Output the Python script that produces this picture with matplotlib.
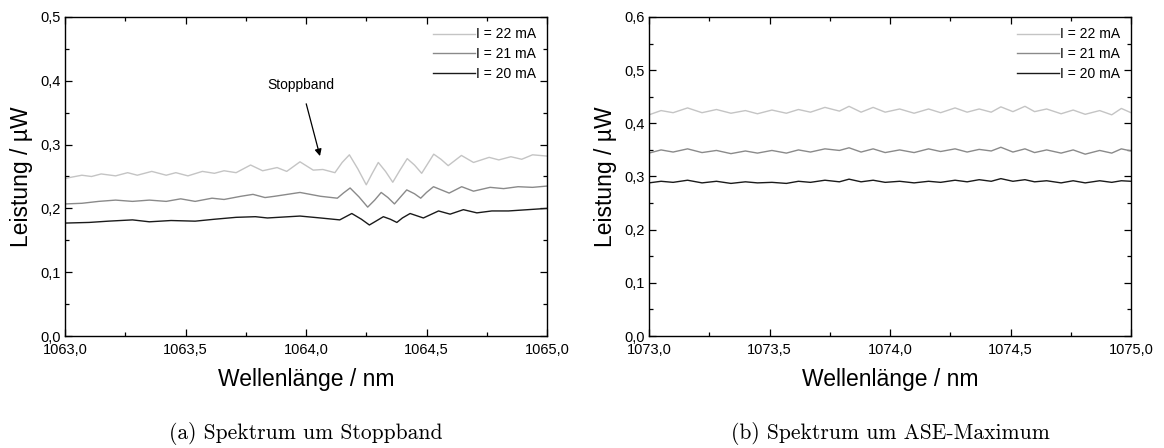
import matplotlib
matplotlib.use("Agg")
import matplotlib.pyplot as plt
from matplotlib.ticker import MultipleLocator, FuncFormatter

plt.rcParams['font.family'] = ['Liberation Sans', 'DejaVu Sans']

# ---------------- data: panel (a) ----------------
wl_a_22 = [1063.00, 1063.07, 1063.11, 1063.15, 1063.21, 1063.26, 1063.30, 1063.36, 1063.42,
           1063.46, 1063.51, 1063.57, 1063.62, 1063.66, 1063.71, 1063.77, 1063.82, 1063.88,
           1063.92, 1063.975, 1064.03, 1064.07, 1064.12, 1064.15, 1064.18, 1064.215, 1064.25,
           1064.275, 1064.30, 1064.33, 1064.36, 1064.39, 1064.42, 1064.45, 1064.48, 1064.505,
           1064.53, 1064.56, 1064.59, 1064.645, 1064.695, 1064.76, 1064.80, 1064.85,
           1064.895, 1064.94, 1065.00]
p_a_22 = [0.247, 0.252, 0.250, 0.254, 0.251, 0.256, 0.252, 0.258, 0.252,
          0.256, 0.251, 0.258, 0.255, 0.259, 0.256, 0.268, 0.259, 0.264,
          0.258, 0.273, 0.260, 0.261, 0.256, 0.272, 0.284, 0.262, 0.237,
          0.255, 0.272, 0.258, 0.241, 0.260, 0.278, 0.268, 0.255, 0.270,
          0.285, 0.277, 0.267, 0.283, 0.272, 0.280, 0.276, 0.281,
          0.277, 0.284, 0.282]

wl_a_21 = [1063.00, 1063.07, 1063.14, 1063.21, 1063.28, 1063.35, 1063.42, 1063.48, 1063.54,
           1063.61, 1063.66, 1063.73, 1063.78, 1063.83, 1063.87, 1063.975, 1064.06, 1064.13,
           1064.155, 1064.183, 1064.22, 1064.256, 1064.285, 1064.312, 1064.34, 1064.367,
           1064.39, 1064.418, 1064.45, 1064.476, 1064.50, 1064.529, 1064.594,
           1064.646, 1064.695, 1064.764, 1064.82, 1064.88, 1064.94, 1065.00]
p_a_21 = [0.207, 0.208, 0.211, 0.213, 0.211, 0.213, 0.211, 0.215, 0.211,
          0.216, 0.214, 0.219, 0.222, 0.217, 0.219, 0.225, 0.219, 0.216,
          0.224, 0.232, 0.218, 0.202, 0.213, 0.225, 0.217, 0.207,
          0.217, 0.229, 0.223, 0.216, 0.225, 0.234, 0.224,
          0.234, 0.227, 0.233, 0.231, 0.234, 0.233, 0.235]

wl_a_20 = [1063.00, 1063.10, 1063.18, 1063.28, 1063.35, 1063.44, 1063.54, 1063.62, 1063.71,
           1063.79, 1063.84, 1063.975, 1064.06, 1064.14, 1064.19, 1064.23, 1064.263, 1064.29,
           1064.321, 1064.35, 1064.377, 1064.40, 1064.432, 1064.487, 1064.55, 1064.598,
           1064.653, 1064.709, 1064.771, 1064.84, 1064.92, 1065.00]
p_a_20 = [0.177, 0.178, 0.180, 0.182, 0.179, 0.181, 0.180, 0.183, 0.186,
          0.187, 0.185, 0.188, 0.185, 0.182, 0.192, 0.183, 0.174, 0.180,
          0.187, 0.183, 0.178, 0.185, 0.192, 0.185, 0.196, 0.191,
          0.198, 0.193, 0.196, 0.196, 0.198, 0.200]

# ---------------- data: panel (b) ----------------
wl_b = [1073.00, 1073.05, 1073.10, 1073.16, 1073.22, 1073.28, 1073.34, 1073.40, 1073.45,
        1073.51, 1073.57, 1073.62, 1073.67, 1073.73, 1073.79, 1073.83, 1073.88, 1073.93,
        1073.98, 1074.04, 1074.10, 1074.16, 1074.21, 1074.27, 1074.32, 1074.37, 1074.42,
        1074.46, 1074.51, 1074.56, 1074.60, 1074.65, 1074.71, 1074.76, 1074.81, 1074.87,
        1074.92, 1074.96, 1075.00]
p_b_22 = [0.416, 0.424, 0.420, 0.429, 0.420, 0.426, 0.419, 0.424, 0.418,
          0.425, 0.419, 0.426, 0.421, 0.430, 0.423, 0.432, 0.421, 0.430,
          0.421, 0.427, 0.419, 0.427, 0.420, 0.429, 0.421, 0.427, 0.421,
          0.431, 0.422, 0.432, 0.422, 0.427, 0.418, 0.425, 0.417, 0.424,
          0.416, 0.428, 0.420]
p_b_21 = [0.344, 0.350, 0.346, 0.352, 0.345, 0.349, 0.343, 0.348, 0.344,
          0.349, 0.344, 0.350, 0.346, 0.352, 0.349, 0.354, 0.346, 0.352,
          0.345, 0.350, 0.345, 0.352, 0.347, 0.352, 0.346, 0.351, 0.348,
          0.355, 0.346, 0.352, 0.345, 0.350, 0.344, 0.350, 0.342, 0.349,
          0.344, 0.352, 0.348]
p_b_20 = [0.288, 0.291, 0.289, 0.293, 0.288, 0.291, 0.287, 0.290, 0.288,
          0.289, 0.287, 0.291, 0.289, 0.293, 0.290, 0.295, 0.290, 0.293,
          0.289, 0.291, 0.288, 0.291, 0.289, 0.293, 0.290, 0.294, 0.291,
          0.296, 0.291, 0.294, 0.290, 0.292, 0.288, 0.292, 0.288, 0.292,
          0.289, 0.292, 0.291]

labels = ["I = 22 mA", "I = 21 mA", "I = 20 mA"]
colors = ["#c4c4c4", "#8a8a8a", "#1a1a1a"]
captions = ["(a) Spektrum um Stoppband", "(b) Spektrum um ASE-Maximum"]

W, H = 1164, 448
fig = plt.figure(figsize=(W / 100, H / 100), dpi=100)

def comma(fmt):
    return FuncFormatter(lambda v, p: (fmt % v).replace('.', ','))

def style(ax, x0, x1, ymax):
    ax.set_xlim(x0, x1)
    ax.set_ylim(0, ymax)
    ax.xaxis.set_major_locator(MultipleLocator(0.5))
    ax.xaxis.set_minor_locator(MultipleLocator(0.25))
    ax.yaxis.set_major_locator(MultipleLocator(0.1))
    ax.yaxis.set_minor_locator(MultipleLocator(0.05))
    ax.xaxis.set_major_formatter(comma('%.1f'))
    ax.yaxis.set_major_formatter(comma('%.1f'))
    ax.tick_params(which='both', direction='in', top=True, right=True, labelsize=10.5)
    ax.tick_params(axis='x', pad=5)
    ax.tick_params(axis='y', pad=3)
    ax.tick_params(which='major', length=5, width=0.9)
    ax.tick_params(which='minor', length=3, width=0.9)
    for s in ax.spines.values():
        s.set_linewidth(1.0)
    ax.set_xlabel("Wellenlänge / nm", fontsize=16.5, labelpad=8)
    ax.set_ylabel("Leistung / µW", fontsize=16.5, labelpad=5)

ax1 = fig.add_axes([65 / W, 1 - 336 / H, 482 / W, 319 / H])
ax2 = fig.add_axes([649 / W, 1 - 336 / H, 482 / W, 319 / H])

ax1.plot(wl_a_22, p_a_22, color=colors[0], lw=1.0, label=labels[0])
ax1.plot(wl_a_21, p_a_21, color=colors[1], lw=1.0, label=labels[1])
ax1.plot(wl_a_20, p_a_20, color=colors[2], lw=1.0, label=labels[2])
style(ax1, 1063.0, 1065.0, 0.5)
ax1.annotate("Stoppband", xy=(1064.058, 0.282), xytext=(1063.98, 0.394),
             ha='center', va='center', fontsize=10,
             arrowprops=dict(arrowstyle='-|>', color='black', lw=0.9,
                             shrinkA=7, shrinkB=0, mutation_scale=10))

ax2.plot(wl_b, p_b_22, color=colors[0], lw=1.0, label=labels[0])
ax2.plot(wl_b, p_b_21, color=colors[1], lw=1.0, label=labels[1])
ax2.plot(wl_b, p_b_20, color=colors[2], lw=1.0, label=labels[2])
style(ax2, 1073.0, 1075.0, 0.6)

for ax in (ax1, ax2):
    ax.legend(loc='upper right', frameon=False, fontsize=10, handlelength=3.0,
              handletextpad=0.1, labelspacing=0.4, borderaxespad=0.35)

for ax, cap in zip((ax1, ax2), captions):
    pos = ax.get_position()
    fig.text((pos.x0 + pos.x1) / 2, 1 - 433 / H, cap, ha='center', va='center',
             fontsize=15.5, family='cmr10')

fig.savefig("out.png", dpi=100)
